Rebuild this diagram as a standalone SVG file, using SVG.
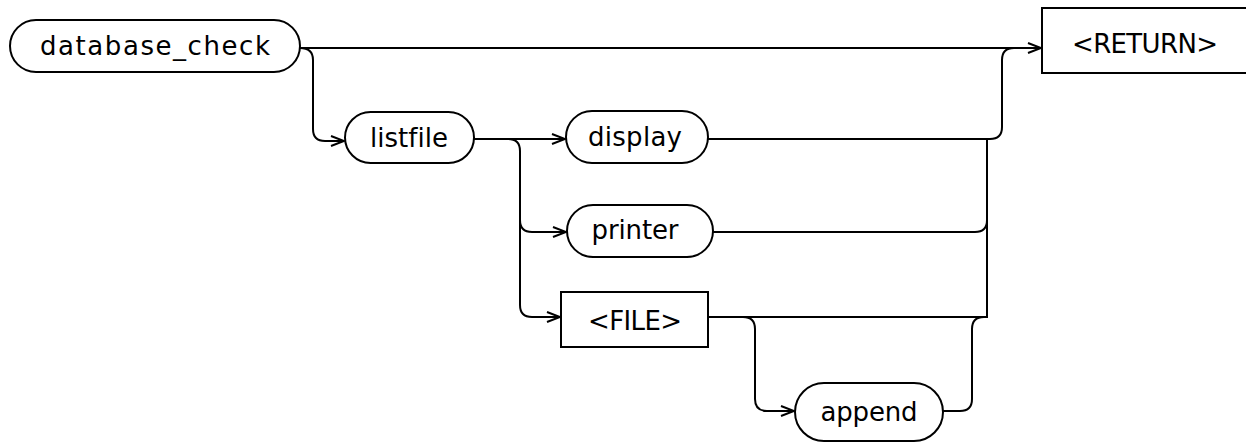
<svg xmlns="http://www.w3.org/2000/svg" width="1246" height="445" viewBox="0 0 1246 445">
<defs>
<marker id="arr" markerWidth="16" markerHeight="12" refX="14" refY="6" orient="auto" markerUnits="userSpaceOnUse">
<path d="M1,1 L14,6 L1,11" fill="none" stroke="#000" stroke-width="2"/>
</marker>
</defs>
<style>
.n{fill:#fff;stroke:#000;stroke-width:2}
.t{font-family:"DejaVu Sans",sans-serif;font-size:26px;fill:#000;text-anchor:middle;font-variant-ligatures:none}
.c{fill:none;stroke:#000;stroke-width:2}
</style>
<rect width="1246" height="445" fill="#fff"/>
<g id="connectors">
<path class="c" d="M300,48 H1041" marker-end="url(#arr)"/>
<path class="c" d="M300,48 Q313,48 313,60 V129 Q313,141 325,141 H344" marker-end="url(#arr)"/>
<path class="c" d="M474,139 H565" marker-end="url(#arr)"/>
<path class="c" d="M508,139 Q520,139 520,151 V305 Q520,317 532,317 H560" marker-end="url(#arr)"/>
<path class="c" d="M520,220 Q520,232 532,232 H566" marker-end="url(#arr)"/>
<path class="c" d="M708,139 H990 Q1002,139 1002,127 V60 Q1002,48 1014,48"/>
<path class="c" d="M987,139 V318"/>
<path class="c" d="M713,232 H975 Q987,232 987,220"/>
<path class="c" d="M708,317 H987"/>
<path class="c" d="M743,317 Q755,317 755,329 V399 Q755,411 767,411 H794" marker-end="url(#arr)"/>
<path class="c" d="M943,411 H960 Q972,411 972,399 V329 Q972,317 984,317"/>
</g>
<g id="node-database_check">
<rect class="n" x="10" y="20" width="290" height="52" rx="26"/>
<text class="t" x="155" y="55" textLength="230" lengthAdjust="spacing">database_check</text>
</g>
<g id="node-return">
<rect class="n" x="1042" y="8" width="210" height="65"/>
<text class="t" x="1145" y="53" textLength="146" lengthAdjust="spacing">&lt;RETURN&gt;</text>
</g>
<g id="node-listfile">
<rect class="n" x="345" y="112" width="129" height="51" rx="25.5"/>
<text class="t" x="409" y="147" textLength="78" lengthAdjust="spacing">listfile</text>
</g>
<g id="node-display">
<rect class="n" x="566" y="111" width="142" height="52" rx="26"/>
<text class="t" x="635" y="146" textLength="94" lengthAdjust="spacing">display</text>
</g>
<g id="node-printer">
<rect class="n" x="567" y="205" width="146" height="52" rx="26"/>
<text class="t" x="635" y="239" textLength="87" lengthAdjust="spacing">printer</text>
</g>
<g id="node-file">
<rect class="n" x="561" y="292" width="147" height="55"/>
<text class="t" x="635" y="330" textLength="94" lengthAdjust="spacing">&lt;FILE&gt;</text>
</g>
<g id="node-append">
<rect class="n" x="795" y="383" width="148" height="58" rx="29"/>
<text class="t" x="869" y="421" textLength="97" lengthAdjust="spacing">append</text>
</g>
</svg>
